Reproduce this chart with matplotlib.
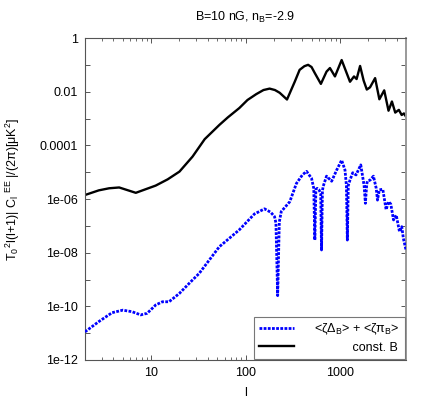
import numpy as np
import matplotlib
matplotlib.use("Agg")
import matplotlib.pyplot as plt
from matplotlib.ticker import LogLocator, FuncFormatter, NullFormatter

plt.rcParams['font.family'] = ['Liberation Sans', 'DejaVu Sans']
plt.rcParams['mathtext.fontset'] = 'custom'
plt.rcParams['mathtext.rm'] = 'Liberation Sans'
plt.rcParams['mathtext.it'] = 'Liberation Sans:italic'
plt.rcParams['mathtext.default'] = 'regular'

# const. B curve
l_const = [2, 2.8, 3.6, 4.6, 6.9, 11.2, 15, 20, 27.5, 37, 53, 65, 86, 105, 130, 155, 180, 205,
           230, 275, 332, 374, 420, 460, 500, 542, 628, 721, 783, 885, 1042, 1178, 1277, 1408,
           1500, 1633, 1780, 1923, 2080, 2355, 2612, 2940, 3265, 3548, 3846, 4200, 4500,
           4750, 5000]
c_const = [1.41e-6, 2.1e-6, 2.51e-6, 2.69e-6, 1.70e-6, 3.16e-6, 5.4e-6, 1.05e-5, 3.8e-5,
           1.7e-4, 5.8e-4, 1.1e-3, 2.45e-3, 4.9e-3, 8.1e-3, 1.15e-2, 1.3e-2, 1.15e-2,
           9.1e-3, 5.1e-3, 2.34e-2, 6.5e-2, 8.9e-2, 0.10, 8.3e-2, 4.9e-2, 1.95e-2, 5.6e-2,
           7.6e-2, 3.7e-2, 0.151, 4.9e-2, 2.34e-2, 3.7e-2, 2.95e-2, 9.1e-2, 2.6e-2, 1.2e-2,
           1.45e-2, 3.2e-2, 5.2e-3, 1.12e-2, 1.95e-3, 4.3e-3, 1.66e-3, 2.1e-3, 1.35e-3,
           1.55e-3, 1.17e-3]

# <zeta Delta_B> + <zeta pi_B> curve
l_zeta = [2, 2.8, 3.87, 5.03, 6.3, 7.77, 9.1, 11.2, 13.2, 15.5, 19.9, 26.4, 32.4, 52.8, 86,
          124, 159, 185, 203, 210, 219, 228, 239, 294, 346, 400, 443, 500, 528, 542, 556,
          574, 600, 625, 638, 652, 664, 721, 816, 923, 1042, 1130, 1170, 1197, 1225, 1277,
          1365, 1480, 1660, 1800, 1858, 1920, 1950, 2090, 2260, 2420, 2495, 2612, 2840,
          3080, 3265, 3450, 3690, 3940, 4270, 4510, 4690, 5000]
c_zeta = [1.12e-11, 2.7e-11, 5.8e-11, 7.2e-11, 6.3e-11, 4.8e-11, 5.5e-11, 1.12e-10, 1.48e-10,
          1.48e-10, 3.0e-10, 8.3e-10, 1.7e-9, 1.66e-8, 7.1e-8,
          2.75e-7, 4.3e-7, 3.2e-7, 2.2e-7, 1.26e-7, 2.5e-10, 1.4e-7, 3.4e-7, 7.9e-7, 3.8e-6,
          7.9e-6, 1.07e-5, 5.9e-6, 2.5e-6, 2.95e-8, 2.24e-6,
          2.5e-6, 2.2e-6, 1.6e-6, 1.26e-8, 2.0e-6, 2.95e-6, 7.1e-6, 4.6e-6, 1.2e-5, 2.8e-5,
          1.2e-5, 3.2e-6, 2.95e-8, 3.2e-6, 5.1e-6,
          9.5e-6, 7.9e-6, 1.86e-5, 3.2e-6, 6.9e-7, 3.5e-6, 4.6e-6, 5.1e-6, 7.1e-6, 2.5e-6,
          9.1e-7, 2.2e-6, 2.3e-6,
          4.0e-7, 7.9e-7, 6.5e-7, 1.66e-7, 2.5e-7, 6.0e-8, 9.3e-8, 3.4e-8, 1.26e-8]

ytick_vals = [1e-12, 1e-10, 1e-8, 1e-6, 1e-4, 1e-2, 1]
ytick_text = ['1e-12', '1e-10', '1e-08', '1e-06', '0.0001', '0.01', '1']
xtick_vals = [10, 100, 1000]
xtick_text = ['10', '100', '1000']

fs = 9
fig = plt.figure(figsize=(4.29, 4.01), dpi=100)
ax = fig.add_axes([85/429, 1-360/401, 321/429, 322/401])

ax.plot(l_zeta, c_zeta, color='#0000ff', lw=2.0, ls=(0, (1.0, 0.5)),
        label=r'<ζΔ$_{B}$> + <ζπ$_{B}$>', zorder=3)
ax.plot(l_const, c_const, color='black', lw=1.7, label='const. B', zorder=2)

ax.set_xscale('log')
ax.set_yscale('log')
ax.set_xlim(2, 5000)
ax.set_ylim(1e-12, 1)

# y: ticks each decade, labels every second one
ax.yaxis.set_major_locator(LogLocator(base=10, numticks=20))
lab = dict(zip([round(np.log10(v)) for v in ytick_vals], ytick_text))
ax.yaxis.set_major_formatter(FuncFormatter(lambda v, p: lab.get(round(np.log10(v)), '')))
ax.yaxis.set_minor_locator(matplotlib.ticker.NullLocator())

ax.set_xticks(xtick_vals)
ax.set_xticklabels(xtick_text)
ax.xaxis.set_minor_locator(LogLocator(base=10, subs=np.arange(2, 10), numticks=20))
ax.xaxis.set_minor_formatter(NullFormatter())

sc = '#555555'
ax.tick_params(which='both', direction='in', top=True, right=True, color=sc,
               labelsize=fs, labelcolor='black')
ax.tick_params(which='major', length=3.5, width=0.7, pad=5)
ax.tick_params(which='minor', length=2, width=0.6)
for s in ['left', 'bottom', 'top']:
    ax.spines[s].set_color(sc)
    ax.spines[s].set_linewidth(0.8)
ax.spines['right'].set_color('#999999')
ax.spines['right'].set_linewidth(1.4)

ax.set_xlabel('l', fontsize=fs)
ax.xaxis.set_label_coords(0.5, -0.083)
ax.set_ylabel(r'T$_0$$^2$l(l+1)| C$_l$ $^{EE}$ |/(2π)[μK$^2$]', fontsize=fs)
ax.yaxis.set_label_coords(-0.195, 0.53)

fig.text(245.5/429, 1-17/401, r'B=10 nG, n$_B$=-2.9', ha='center', va='center', fontsize=fs)

leg = ax.legend(loc='lower right', bbox_to_anchor=(1, 0), borderaxespad=0.1,
                fontsize=fs, fancybox=False, edgecolor='#777777', framealpha=1,
                handlelength=2.8, labelspacing=0.38, borderpad=0.4, handletextpad=1.6)
leg.get_frame().set_linewidth(0.8)

# pad the short label with spaces so both labels end at the right edge
fig.canvas.draw()
r = fig.canvas.get_renderer()
texts = leg.get_texts()
wmax = max(t.get_window_extent(r).width for t in texts)
for t in texts:
    base = t.get_text()
    n = 0
    while True:
        t.set_text(' ' * (n + 1) + base)
        if t.get_window_extent(r).width > wmax + 1:
            t.set_text(' ' * n + base)
            break
        n += 1

fig.savefig('out.png', dpi=100)
